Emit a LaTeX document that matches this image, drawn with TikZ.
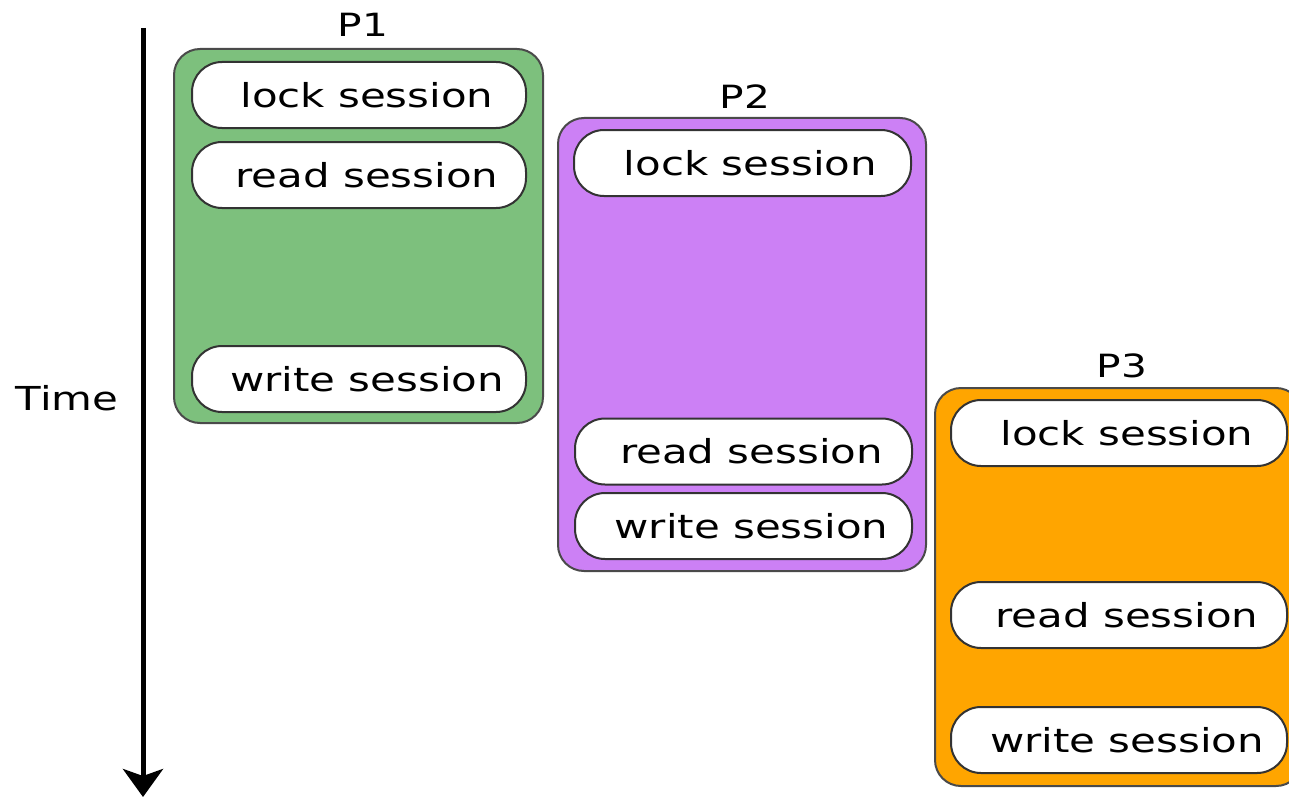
\documentclass[tikz,border=0pt]{standalone}
\usepackage{fontspec}
\newfontfamily\lblfont[FakeStretch=1.27]{DejaVu Sans}
\usetikzlibrary{arrows.meta}
\definecolor{pgreen}{HTML}{7DC07D}
\definecolor{ppurple}{HTML}{CC80F5}
\definecolor{porange}{HTML}{FFA500}
\definecolor{edgegray}{HTML}{4A4A4A}
\tikzset{
  proc/.style={draw=edgegray, line width=2pt, rounded corners=26pt, inner sep=0pt},
  sess/.style={draw=black!80, fill=white, line width=2pt, rounded corners=30pt,
               minimum height=66pt, inner sep=0pt},
  stxt/.style={font=\lblfont\fontsize{33}{40}\selectfont, inner sep=0pt, text=black},
  ptitle/.style={font=\lblfont\fontsize{32}{38}\selectfont, inner sep=0pt, text=black},
}
\begin{document}
\begin{tikzpicture}[x=1pt, y=-1pt]
\clip (0,0) rectangle (1289,797);
\fill[white] (0,0) rectangle (1289,797);

% time axis
\coordinate (ttop) at (143,28);
\coordinate (tbot) at (143,797);
\draw[line width=5pt, -{Stealth[length=28pt, width=40pt, inset=7pt]}] (ttop) -- (tbot);
\node[stxt] (time) at (67,398) {Time};

% process P1
\node[proc, fill=pgreen, minimum width=369pt, minimum height=374pt] (p1) at (358.5,236) {};
\node[ptitle] (p1t) at (363,25) {P1};
\node[sess, minimum width=334pt] (p1lock) at (359,95) {};
\node[sess, minimum width=334pt] (p1read) at (359,175) {};
\node[sess, minimum width=334pt] (p1write) at (359,379) {};
\node[stxt] (p1lockt) at ([xshift=8pt]p1lock.center) {lock session};
\node[stxt] (p1readt) at ([xshift=8pt]p1read.center) {read session};
\node[stxt] (p1writet) at ([xshift=8pt]p1write.center) {write session};

% process P2
\node[proc, fill=ppurple, minimum width=368pt, minimum height=453pt] (p2) at (742,344.5) {};
\node[ptitle] (p2t) at (745,97) {P2};
\node[sess, minimum width=337pt] (p2lock) at (742.5,163) {};
\node[sess, minimum width=337pt] (p2read) at (743.5,451.5) {};
\node[sess, minimum width=337pt] (p2write) at (743.5,526) {};
\node[stxt] (p2lockt) at ([xshift=8pt]p2lock.center) {lock session};
\node[stxt] (p2readt) at ([xshift=8pt]p2read.center) {read session};
\node[stxt] (p2writet) at ([xshift=8pt]p2write.center) {write session};

% process P3
\node[proc, fill=porange, minimum width=367pt, minimum height=398pt] (p3) at (1118.5,587) {};
\node[ptitle] (p3t) at (1122,366) {P3};
\node[sess, minimum width=336pt] (p3lock) at (1119,433) {};
\node[sess, minimum width=336pt] (p3read) at (1119,615) {};
\node[sess, minimum width=336pt] (p3write) at (1119,740) {};
\node[stxt] (p3lockt) at ([xshift=8pt]p3lock.center) {lock session};
\node[stxt] (p3readt) at ([xshift=8pt]p3read.center) {read session};
\node[stxt] (p3writet) at ([xshift=8pt]p3write.center) {write session};
\end{tikzpicture}
\end{document}
